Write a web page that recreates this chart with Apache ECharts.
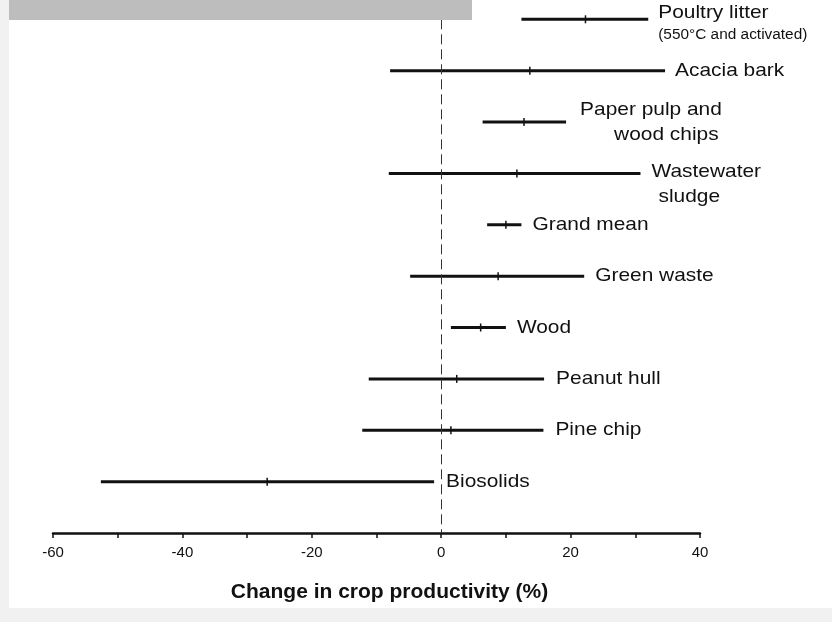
<!DOCTYPE html>
<html>
<head>
<meta charset="utf-8">
<script src="https://cdn.jsdelivr.net/npm/echarts@6/dist/echarts.min.js"></script>
<style>html,body{margin:0;padding:0;background:#fff;}#c{width:832px;height:622px;}</style>
</head>
<body>
<div id="c"></div>
<script>
const categories = ['Poultry litter','Acacia bark','Paper pulp and wood chips','Wastewater sludge','Grand mean','Green waste','Wood','Peanut hull','Pine chip','Biosolids'];
const lowValues  = [12.4, -7.9, 6.4, -8.1, 7.1, -4.8, 1.5, -11.2, -12.2, -52.6];
const highValues = [32.0, 34.6, 19.3, 30.8, 12.4, 22.1, 10.0, 15.9, 15.8, -1.1];
const meanValues = [22.3, 13.7, 12.8, 11.7, 10.0, 8.8, 6.1, 2.4, 1.5, -26.9];
const labelLines = [
  ['Poultry litter', '(550°C and activated)'],
  ['Acacia bark'],
  ['Paper pulp and', 'wood chips'],
  ['Wastewater', 'sludge'],
  ['Grand mean'],
  ['Green waste'],
  ['Wood'],
  ['Peanut hull'],
  ['Pine chip'],
  ['Biosolids']
];
const xTickLabels = [-60, -40, -20, 0, 20, 40];

// label layout (style): per category, per line [dx, dy, fontSize]
const labelLayout = [
  [[10, -7, 19], [10, 16, 14]],
  [[10, 0, 19]],
  [[14, -12, 19], [48, 13, 19]],
  [[11, -2, 19], [18, 23, 19]],
  [[11, 0, 19]],
  [[11, 0, 19]],
  [[11, 0, 19]],
  [[12, 0, 19]],
  [[12, 0, 19]],
  [[12, 0, 19]]
];

const seriesData = categories.map((c, i) => [i, lowValues[i], highValues[i], meanValues[i]]);
const FONT = '"Liberation Sans", Arial, sans-serif';

const chart = echarts.init(document.getElementById('c'), null, {renderer: 'canvas'});
chart.setOption({
  backgroundColor: '#ffffff',
  animation: false,
  graphic: [
    {type: 'rect', left: 0, top: 0, shape: {width: 9, height: 622}, style: {fill: '#f1f1f1'}, z: -10},
    {type: 'rect', left: 0, top: 608, shape: {width: 832, height: 14}, style: {fill: '#f1f1f1'}, z: -10},
    {type: 'rect', left: 9, top: 0, shape: {width: 463, height: 20}, style: {fill: '#bdbdbd'}, z: 100}
  ],
  grid: {left: 53, right: 132, top: 19.3, bottom: 89, containLabel: false},
  xAxis: {
    type: 'value', min: -60, max: 40, interval: 10,
    axisLine: {show: true, onZero: false, lineStyle: {color: '#111', width: 2.5}},
    axisTick: {show: true, length: 5, lineStyle: {color: '#111', width: 1.5}},
    axisLabel: {
      show: true, color: '#111', fontSize: 15, fontFamily: FONT, margin: 12,
      formatter: v => (xTickLabels.indexOf(v) >= 0 ? String(v) : '')
    },
    splitLine: {show: false},
    name: 'Change in crop productivity (%)',
    nameLocation: 'middle', nameGap: 49,
    nameTextStyle: {fontSize: 21, fontWeight: 'bold', color: '#111', fontFamily: FONT, padding: [0, 0, 0, 26]}
  },
  yAxis: {
    type: 'value', min: 0, max: 10, inverse: true, show: false
  },
  series: [{
    type: 'custom',
    data: seriesData,
    encode: {x: [1, 2, 3], y: 0},
    renderItem: function (params, api) {
      const i = api.value(0);
      const lo = api.coord([api.value(1), i]);
      const hi = api.coord([api.value(2), i]);
      const mn = api.coord([api.value(3), i]);
      const children = [
        {type: 'line', shape: {x1: lo[0], y1: lo[1], x2: hi[0], y2: hi[1]}, style: {stroke: '#111', lineWidth: 3}},
        {type: 'line', shape: {x1: mn[0], y1: mn[1] - 4, x2: mn[0], y2: mn[1] + 4}, style: {stroke: '#111', lineWidth: 1.5}}
      ];
      const lines = labelLines[i];
      const lay = labelLayout[i];
      lines.forEach((t, k) => {
        children.push({
          type: 'text',
          x: hi[0] + lay[k][0], y: hi[1] + lay[k][1],
          scaleX: 1.1,
          style: {text: t, fill: '#111', font: lay[k][2] + 'px ' + FONT, textAlign: 'left', textVerticalAlign: 'middle'}
        });
      });
      return {type: 'group', children: children};
    },
    markLine: {
      silent: true, symbol: 'none', label: {show: false},
      lineStyle: {color: '#333', width: 1, type: [10, 5]},
      data: [{xAxis: 0}]
    }
  }]
});
</script>
</body>
</html>
